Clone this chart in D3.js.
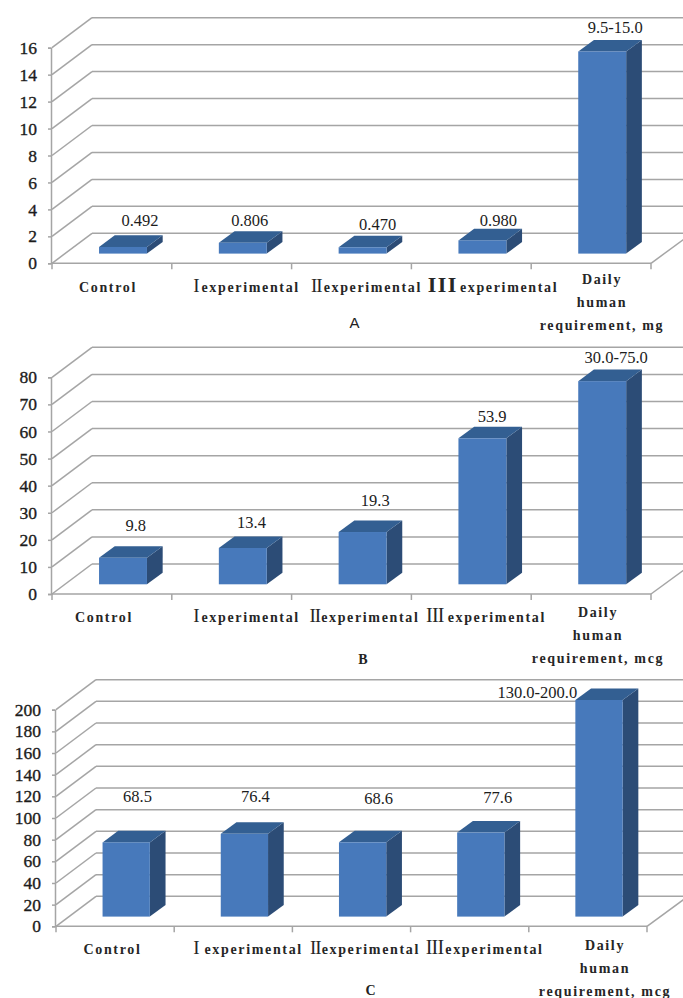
<!DOCTYPE html>
<html>
<head>
<meta charset="utf-8">
<script src="https://cdn.jsdelivr.net/npm/d3@7"></script>
<style>
html,body{margin:0;padding:0;background:#fff;overflow:hidden}
svg{display:block}
</style>
</head>
<body>
<svg id="chart" width="683" height="998"></svg>
<script>
// Category names; a leading Roman numeral is typeset separately.
const categories = ["Control", "I experimental", "II experimental", "III experimental", "Daily human requirement"];

const valuesA = [0.492, 0.806, 0.470, 0.980, 15.0];
const valuesB = [9.8, 13.4, 19.3, 53.9, 75.0];
const valuesC = [68.5, 76.4, 68.6, 77.6, 200.0];

const textA = ["0.492", "0.806", "0.470", "0.980", "9.5-15.0"];
const textB = ["9.8", "13.4", "19.3", "53.9", "30.0-75.0"];
const textC = ["68.5", "76.4", "68.6", "77.6", "130.0-200.0"];

const ticksA = [0, 2, 4, 6, 8, 10, 12, 14, 16];
const ticksB = [0, 10, 20, 30, 40, 50, 60, 70, 80];
const ticksC = [0, 20, 40, 60, 80, 100, 120, 140, 160, 180, 200];

const unitA = "requirement, mg";
const unitB = "requirement, mcg";
const unitC = "requirement, mcg";

// Page placement of each panel, kept apart from the data.
// Each roman entry is [font size, letter spacing, gap after, weight].
const panels = [
  { values: valuesA, text: textA, ticks: ticksA, unit: unitA, letter: "A",
    left: 52, right: 651, y0: 263.3, yTop: 47.7,
    nudgeX: [17, 7, 15, 16, 13], lift: [20.7, 16.4, 17.7, 14.1, 18.6],
    catX: [108, 246.5, 366.5, 493, 602], catY: 292, dailyY: [284, 307, 330],
    roman: [null, [19, 0, 2, "normal"], [19, -1, 2, "normal"], [22, 1.5, 2, "bold"]],
    letterX: 354.5, letterY: 328, letterFont: "500 15px 'Liberation Sans'" },
  { values: valuesB, text: textB, ticks: ticksB, unit: unitB, letter: "B",
    left: 52, right: 651, y0: 594, yTop: 377.3,
    nudgeX: [12.7, 8.7, 12.7, 9.7, 14], lift: [26.7, 19.7, 25.7, 16.2, 17.8],
    catX: [104, 246.5, 364.5, 486, 598], catY: 622, dailyY: [617, 640, 663],
    roman: [null, [19, 0, 2, "normal"], [19, -1, 1, "normal"], [20, -0.8, 4, "normal"]],
    letterX: 363, letterY: 664, letterFont: "bold 14px 'Liberation Serif'" },
  { values: valuesC, text: textC, ticks: ticksC, unit: unitC, letter: "C",
    left: 56, right: 647, y0: 926.3, yTop: 709.7,
    nudgeX: [11.3, 11, 16, 17, -61.7], lift: [40, 31.6, 38.3, 29.3, 2.4],
    catX: [112.5, 248, 365, 484.7, 605], catY: 954, dailyY: [950, 973, 996],
    roman: [null, [19, 0, 5, "normal"], [19, -1, 1, "normal"], [20, -0.8, 2, "normal"]],
    letterX: 370.5, letterY: 994.5, letterFont: "bold 14px 'Liberation Serif'" }
];

// Oblique projection: the back wall sits up and to the right of the front plane.
const wallX = 41, wallY = 30;
const barInsetX = 11.1, barInsetY = 9.7;
const barDepthX = 15.7, barDepthY = 11.6;

const gridColor = "#a5a5a5";
const faceColor = "#4779bb", sideColor = "#2c4c76", topColor = "#335f92";
const serif = "'Liberation Serif', 'Times New Roman', serif";

const svg = d3.select("#chart");

panels.forEach(p => {
  const g = svg.append("g");
  const axisX = p.left - 1;

  const x = d3.scaleBand()
    .domain(categories)
    .range([p.left, p.right])
    .paddingInner(0.6)
    .paddingOuter(0.3);
  const y = d3.scaleLinear()
    .domain([0, d3.max(p.ticks)])
    .range([p.y0, p.yTop]);

  const rows = categories.map((c, i) => ({ c, i, v: p.values[i], t: p.text[i] }));
  const step = x.step();

  // Back wall rules and the diagonals running along the side wall.
  const grid = g.append("g")
    .attr("fill", "none")
    .attr("stroke", gridColor)
    .attr("stroke-width", 1.5);

  grid.selectAll("line.back").data(p.ticks).join("line")
    .attr("class", "back")
    .attr("x1", axisX + wallX)
    .attr("x2", p.right + wallX)
    .attr("y1", d => y(d) - wallY)
    .attr("y2", d => y(d) - wallY);

  grid.selectAll("line.side").data(p.ticks).join("line")
    .attr("class", "side")
    .attr("x1", axisX + 1)
    .attr("x2", axisX + wallX)
    .attr("y1", d => y(d))
    .attr("y2", d => y(d) - wallY);

  // Floor edge on the far right and the front edge of the floor.
  grid.append("line")
    .attr("x1", p.right).attr("x2", p.right + wallX)
    .attr("y1", y(0)).attr("y2", y(0) - wallY);
  grid.append("line")
    .attr("x1", axisX).attr("x2", p.right)
    .attr("y1", y(0)).attr("y2", y(0));

  // Category separators below the floor edge.
  grid.selectAll("line.sep").data(d3.range(categories.length + 1)).join("line")
    .attr("class", "sep")
    .attr("x1", i => p.left + i * step)
    .attr("x2", i => p.left + i * step)
    .attr("y1", y(0))
    .attr("y2", y(0) + 6);

  // Value axis on the left.
  const axis = d3.axisLeft(y)
    .tickValues(p.ticks)
    .tickFormat(d3.format("d"))
    .tickSize(3)
    .tickPadding(11);
  const axisG = g.append("g")
    .attr("transform", `translate(${axisX},0)`)
    .call(axis);
  axisG.selectAll("path, line").attr("stroke", gridColor).attr("stroke-width", 1.5);
  axisG.selectAll("text")
    .attr("font-family", serif)
    .attr("font-size", 17.5)
    .attr("fill", "#1c1c1c")
    .attr("stroke", "#1c1c1c")
    .attr("stroke-width", 0.35);

  // Three-faced bars: side, top, then front.
  const bars = g.selectAll("g.bar").data(rows).join("g").attr("class", "bar");
  const fx = d => x(d.c) + barInsetX;
  const fy = v => y(v) - barInsetY;
  const w = x.bandwidth();

  bars.append("path")
    .attr("fill", sideColor)
    .attr("d", d => {
      const r = fx(d) + w;
      return `M${r},${fy(0)}L${r + barDepthX},${fy(0) - barDepthY}` +
             `L${r + barDepthX},${fy(d.v) - barDepthY}L${r},${fy(d.v)}Z`;
    });
  bars.append("path")
    .attr("fill", topColor)
    .attr("d", d => {
      const l = fx(d), r = l + w, t = fy(d.v);
      return `M${l},${t}L${r},${t}L${r + barDepthX},${t - barDepthY}` +
             `L${l + barDepthX},${t - barDepthY}Z`;
    });
  bars.append("rect")
    .attr("fill", faceColor)
    .attr("x", fx)
    .attr("y", d => fy(d.v))
    .attr("width", w)
    .attr("height", d => fy(0) - fy(d.v));

  // Value captions above the bars.
  bars.append("text")
    .attr("text-anchor", "middle")
    .attr("font-family", serif)
    .attr("font-size", 16.5)
    .attr("fill", "#1c1c1c")
    .attr("x", d => fx(d) + w / 2 + p.nudgeX[d.i])
    .attr("y", d => fy(d.v) - p.lift[d.i])
    .text(d => d.t);

  // Category captions under the axis.
  const cat = g.append("g")
    .attr("font-family", serif)
    .attr("font-weight", "bold")
    .attr("font-size", 14)
    .attr("letter-spacing", 1.65)
    .attr("fill", "#262626")
    .attr("text-anchor", "middle");

  rows.forEach(d => {
    const cx = p.catX[d.i];
    if (d.i === categories.length - 1) {
      const lines = [d.c.split(" ")[0], d.c.split(" ")[1], p.unit];
      lines.forEach((line, k) => {
        cat.append("text").attr("x", cx).attr("y", p.dailyY[k]).text(line);
      });
      return;
    }
    const t = cat.append("text").attr("x", cx).attr("y", p.catY);
    const parts = d.c.split(" ");
    if (parts.length === 1) {
      t.text(d.c);
    } else {
      const [size, spacing, gap, weight] = p.roman[d.i];
      t.append("tspan")
        .attr("font-weight", weight)
        .attr("font-size", size)
        .attr("letter-spacing", spacing)
        .text(parts[0]);
      t.append("tspan").attr("dx", gap).text(parts[1]);
    }
  });

  // Panel letter.
  g.append("text")
    .attr("x", p.letterX)
    .attr("y", p.letterY)
    .attr("text-anchor", "middle")
    .style("font", p.letterFont)
    .attr("fill", "#222")
    .text(p.letter);
});
</script>
</body>
</html>
